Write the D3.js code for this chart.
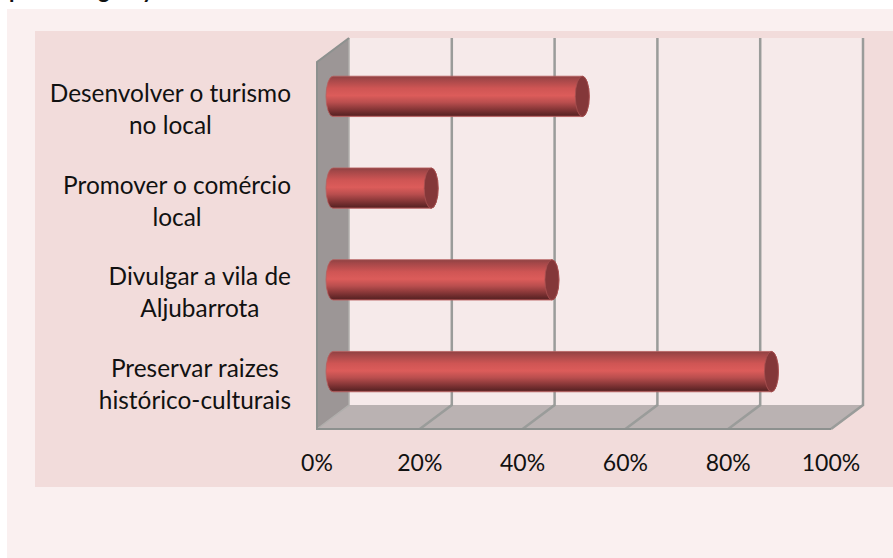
<!DOCTYPE html>
<html lang="pt">
<head>
<meta charset="UTF-8">
<script src="https://d3js.org/d3.v7.min.js"></script>
<style>
    html, body { margin: 0; padding: 0; background: white; overflow: hidden; }
    text { font-family: Lato, "Open Sans", sans-serif; fill: #111; }
</style>
</head>
<body>
<svg id="chart" width="893" height="558"></svg>
<script>
    // values, bottom category is last
    var categories = [
        ["Desenvolver o turismo", "no local"],
        ["Promover o comércio", "local"],
        ["Divulgar a vila de", "Aljubarrota"],
        ["Preservar raizes", "histórico-culturais"]
    ];
    var values = [48.5, 19.1, 42.6, 85.3];
    var ticks = [0, 20, 40, 60, 80, 100];
    // what is left of the line of text cut off above the chart
    var cutOffLetters = [["p", 9], ["g", 98], ["y", 142]];

    var svg = d3.select("#chart");
    var defs = svg.append("defs");

    // front plane of the 3d box
    var plotLeft = 317, plotRight = 831, plotTop = 62, plotBottom = 429;
    // depth of the box
    var dx = 32, dy = -24;

    var x = d3.scaleLinear().domain([0, 100]).range([plotLeft, plotRight]);
    var y = d3.scaleBand().domain(d3.range(categories.length)).range([plotTop, plotBottom]);

    // backgrounds
    svg.append("rect").attr("x", 7).attr("y", 9).attr("width", 886).attr("height", 549).attr("fill", "#faf0f0");
    svg.append("rect").attr("x", 35).attr("y", 31).attr("width", 858).attr("height", 456).attr("fill", "#f2dcdb");

    svg.selectAll(".cut").data(cutOffLetters).enter().append("text")
        .attr("class", "cut")
        .attr("x", function(d) { return d[1]; })
        .attr("y", -2)
        .attr("font-size", 22)
        .attr("font-weight", 700)
        .text(function(d) { return d[0]; });

    // back wall
    svg.append("rect")
        .attr("x", x(0) + dx).attr("y", plotTop + dy)
        .attr("width", x(100) - x(0)).attr("height", plotBottom - plotTop)
        .attr("fill", "#f6eaea");

    // left wall
    svg.append("path")
        .attr("d", d3.line()([[x(0), plotTop], [x(0) + dx, plotTop + dy], [x(0) + dx, plotBottom + dy], [x(0), plotBottom]]) + "Z")
        .attr("fill", "#9c9696");

    // floor
    svg.append("path")
        .attr("d", d3.line()([[x(0), plotBottom], [x(0) + dx, plotBottom + dy], [x(100) + dx, plotBottom + dy], [x(100), plotBottom]]) + "Z")
        .attr("fill", "#bab2b2");

    // grid lines, back wall and floor
    svg.selectAll(".grid").data(ticks).enter().append("path")
        .attr("class", "grid")
        .attr("d", function(d) {
            return d3.line()([[x(d) + dx, plotTop + dy], [x(d) + dx, plotBottom + dy], [x(d), plotBottom]]);
        })
        .attr("fill", "none")
        .attr("stroke", function(d) { return d == 0 ? "#b0aeac" : "#9a9c9a"; })
        .attr("stroke-width", function(d) { return d == 0 ? 1.5 : 2.5; });

    // front edges of the floor and wall
    svg.append("path")
        .attr("d", d3.line()([[x(0) + dx, plotTop + dy], [x(0), plotTop], [x(0), plotBottom], [x(100), plotBottom]]))
        .attr("fill", "none")
        .attr("stroke", "#8d918f")
        .attr("stroke-width", 2);

    // cylinders
    var barGrad = defs.append("linearGradient").attr("id", "bar").attr("x1", 0).attr("x2", 0).attr("y1", 0).attr("y2", 1);
    [["0%", "#8e4243"], ["8%", "#a34748"], ["30%", "#cf5554"], ["48%", "#dc5c5a"],
     ["65%", "#b94e4e"], ["85%", "#7d3233"], ["96%", "#5c2425"], ["100%", "#8c3c3d"]].forEach(function(s) {
        barGrad.append("stop").attr("offset", s[0]).attr("stop-color", s[1]);
    });

    var barH = y.bandwidth() * 0.44;
    var rx = 7;
    var ry = barH / 2;

    var bars = svg.selectAll(".bar").data(values).enter().append("g").attr("class", "bar")
        .attr("transform", function(d, i) {
            return "translate(0," + (y(i) + y.bandwidth() / 2 + dy / 2 + 0.5) + ")";
        });
    bars.append("path")
        .attr("d", function(d) {
            var x0 = x(0) + dx / 2, x1 = x(d) + dx / 2;
            return "M" + x0 + "," + (-ry) +
                "L" + x1 + "," + (-ry) +
                "A" + rx + "," + ry + " 0 0 1 " + x1 + "," + ry +
                "L" + x0 + "," + ry +
                "A" + rx + "," + ry + " 0 0 1 " + x0 + "," + (-ry) + "Z";
        })
        .attr("fill", "url(#bar)")
        .attr("stroke", "#b86060").attr("stroke-width", 0.8);
    bars.append("ellipse")
        .attr("cx", function(d) { return x(d) + dx / 2; })
        .attr("cy", 0)
        .attr("rx", rx).attr("ry", ry)
        .attr("fill", "#843739")
        .attr("stroke", "#a85252").attr("stroke-width", 0.8);

    // category labels, lines centred on each other, block right aligned
    var labelRight = 291;
    svg.selectAll(".cat").data(categories).enter().append("g")
        .attr("class", "cat")
        .attr("transform", function(d, i) {
            return "translate(0," + (y(i) + y.bandwidth() / 2 - 6) + ")";
        })
        .each(function(d) {
            var g = d3.select(this);
            var lines = g.selectAll("text").data(d).enter().append("text")
                .attr("text-anchor", "middle")
                .attr("font-size", 24.4)
                .attr("y", function(t, j) { return j * 32; })
                .text(function(t) { return t; });
            var widest = d3.max(lines.nodes(), function(n) { return n.getComputedTextLength(); });
            lines.attr("x", labelRight - widest / 2);
        });

    // value axis labels
    svg.selectAll(".tick-label").data(ticks).enter().append("text")
        .attr("class", "tick-label")
        .attr("text-anchor", "middle")
        .attr("font-size", 23)
        .attr("x", function(d) { return x(d); })
        .attr("y", plotBottom + 42)
        .text(function(d) { return d + "%"; });
</script>
</body>
</html>
